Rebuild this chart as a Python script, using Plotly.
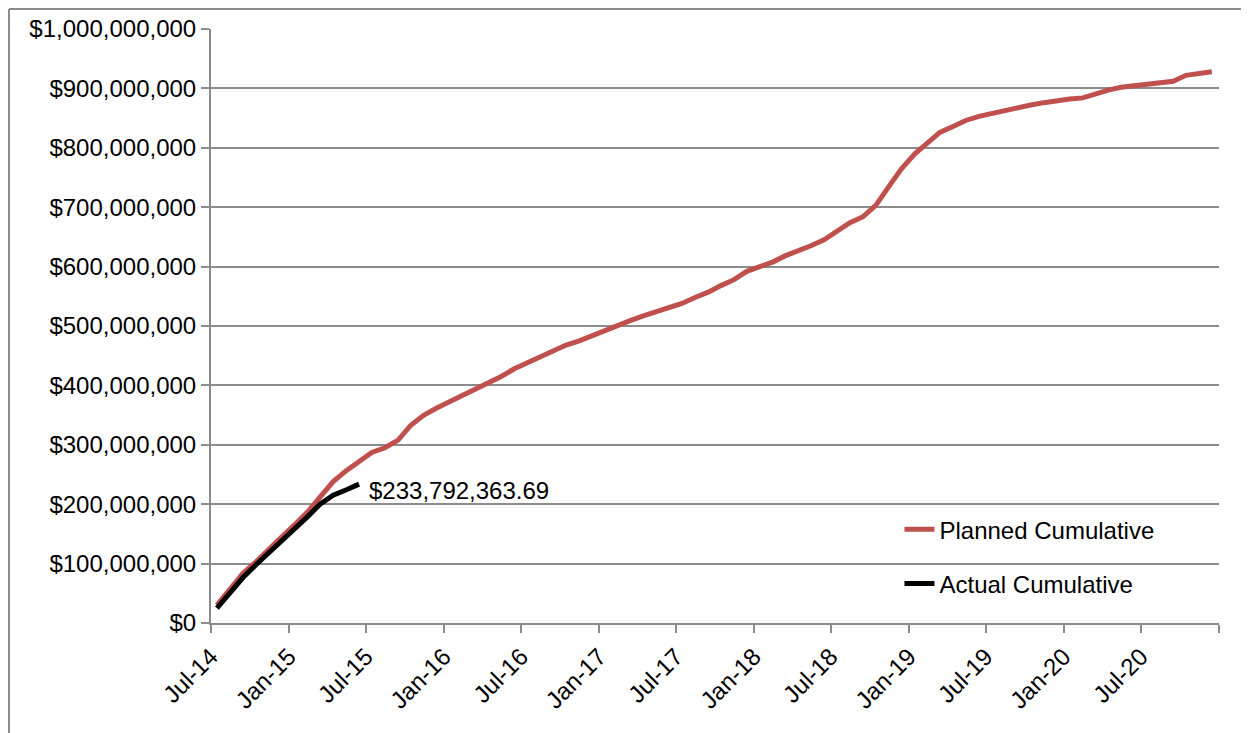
import pandas as pd
import plotly.graph_objects as go

# monthly points, Jul-14 .. Dec-20 (plotted mid-month like an Excel category axis)
months = pd.date_range('2014-07-01', periods=78, freq='MS')

planned = [30, 57, 84, 103, 123, 145, 166, 188, 212, 238, 256, 272,
           287, 295, 308, 333, 350, 362, 373, 382, 392, 403, 415, 428,
           438, 449, 459, 468, 475, 484, 493, 501, 509, 517, 524, 532,
           538, 548, 557, 568, 578, 592, 600, 608, 618, 626, 635, 645,
           660, 674, 684, 703, 735, 765, 790, 810, 826, 836, 846, 853,
           858, 862, 868, 872, 876, 880, 882, 884, 891, 897, 902, 905,
           908, 910, 912, 922, 925, 928]  # millions

actual = [25, 52, 77, 98, 118, 138, 158, 180, 200, 215, 224, 233.79236369]  # millions

tick_dates = pd.date_range('2014-07-01', '2021-01-01', freq='6MS')
tick_text = [d.strftime('%b-%y') for d in tick_dates[:-1]] + ['']

x_mid = months + pd.Timedelta(days=14)
planned_usd = [v * 1e6 for v in planned]
actual_usd = [v * 1e6 for v in actual]

font = dict(family='Liberation Sans', size=24, color='#000000')
grid_col = '#8c8c8c'

fig = go.Figure()

fig.add_trace(go.Scatter(x=x_mid, y=planned_usd, mode='lines', name='Planned Cumulative',
                         legendgroup='p', line=dict(color='#C0504D', width=5)))
fig.add_trace(go.Scatter(x=x_mid[:len(actual)], y=actual_usd, mode='lines', name='Actual Cumulative',
                         legendgroup='a', line=dict(color='#000000', width=5)))

# data label on last actual point
fig.add_annotation(x=x_mid[len(actual) - 1], y=actual_usd[-1], text='$233,792,363.69',
                   showarrow=False, xanchor='left', yanchor='middle', xshift=8, yshift=-6,
                   font=font)

# outer chart border (left and top edges visible in the reference)
fig.add_shape(type='line', xref='paper', yref='paper', x0=-0.2004, x1=-0.2004, y0=1.0337, y1=-0.2,
              line=dict(color=grid_col, width=2))
fig.add_shape(type='line', xref='paper', yref='paper', x0=-0.2004, x1=1.04, y0=1.0337, y1=1.0337,
              line=dict(color=grid_col, width=2))

fig.update_layout(
    width=1249, height=733,
    margin=dict(l=203, r=38, t=21, b=118),
    paper_bgcolor='white', plot_bgcolor='white',
    font=font,
    showlegend=True,
    legend=dict(x=0.683, y=0.195, xanchor='left', yanchor='top', tracegroupgap=20,
                bgcolor='rgba(0,0,0,0)', font=font),
    xaxis=dict(range=['2014-07-01', '2021-01-01'], tickvals=tick_dates, ticktext=tick_text,
               tickangle=-45, showgrid=False, showline=True, linecolor=grid_col, linewidth=2,
               ticks='outside', ticklen=8, tickcolor=grid_col, tickwidth=2, tickfont=font,
               automargin=False),
    yaxis=dict(range=[0, 1e9], tickvals=[i * 1e8 for i in range(11)],
               ticktext=['$' + format(i * 100000000, ',') for i in range(11)],
               showgrid=True, gridcolor=grid_col, gridwidth=2, zeroline=False,
               showline=True, linecolor=grid_col, linewidth=2,
               ticks='outside', ticklen=8, tickcolor=grid_col, tickwidth=2, tickfont=font,
               automargin=False),
)

fig.write_html('out.html')
